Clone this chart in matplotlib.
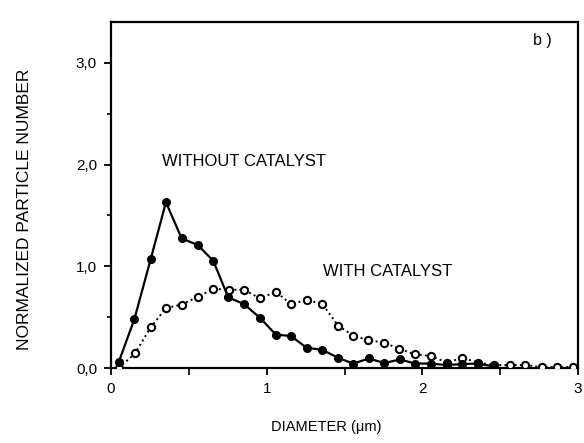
import matplotlib
matplotlib.use("Agg")

import matplotlib.pyplot as plt
from matplotlib.ticker import FixedLocator, FixedFormatter

# particle size distribution
diam_without = [0.05, 0.15, 0.255, 0.353, 0.454, 0.557, 0.657, 0.753, 0.854, 0.96,
                1.058, 1.156, 1.257, 1.357, 1.46, 1.556, 1.657, 1.755, 1.856, 1.952,
                2.055, 2.156, 2.256, 2.36, 2.46]
num_without = [0.06, 0.48, 1.07, 1.63, 1.275, 1.21, 1.055, 0.695, 0.63, 0.49,
               0.33, 0.315, 0.20, 0.18, 0.10, 0.045, 0.095, 0.05, 0.085, 0.045,
               0.045, 0.03, 0.04, 0.045, 0.015]

diam_with = [0.05, 0.154, 0.255, 0.353, 0.454, 0.557, 0.657, 0.758, 0.854, 0.957,
             1.058, 1.156, 1.257, 1.357, 1.46, 1.556, 1.653, 1.753, 1.852, 1.952,
             2.055, 2.156, 2.256, 2.36, 2.46, 2.56, 2.66, 2.766, 2.866, 2.97]
num_with = [0.0, 0.145, 0.40, 0.59, 0.625, 0.70, 0.78, 0.77, 0.77, 0.685,
            0.75, 0.63, 0.67, 0.63, 0.415, 0.32, 0.275, 0.25, 0.19, 0.135,
            0.12, 0.055, 0.10, 0.055, 0.03, 0.03, 0.03, 0.01, 0.01, 0.01]

y_ticks = [0, 1, 2, 3]
y_labels = ["0,0", "1,0", "2,0", "3,0"]
x_ticks = [0, 1, 2, 3]
x_labels = ["0", "1", "2", "3"]

plt.rcParams["font.family"] = ["Liberation Sans", "DejaVu Sans"]

fig = plt.figure(figsize=(5.84, 4.43), dpi=100)
ax = fig.add_axes([0.190, 0.169, 0.800, 0.781])

# with catalyst: dotted line, open circles
ax.plot(diam_with, num_with, color="black", linestyle=":", linewidth=1.4,
        marker="o", markersize=5.2, markerfacecolor="white",
        markeredgecolor="black", markeredgewidth=1.5, zorder=3)
# without catalyst: solid line, filled circles
ax.plot(diam_without, num_without, color="black", linestyle="-", linewidth=1.6,
        marker="o", markersize=5.5, markerfacecolor="black",
        markeredgecolor="black", zorder=4)

ax.set_xlim(0, 3)
ax.set_ylim(0, 3.4)

ax.xaxis.set_major_locator(FixedLocator(x_ticks))
ax.xaxis.set_major_formatter(FixedFormatter(x_labels))
ax.xaxis.set_minor_locator(FixedLocator([0.5, 1.5, 2.5]))
ax.yaxis.set_major_locator(FixedLocator(y_ticks))
ax.yaxis.set_major_formatter(FixedFormatter(y_labels))
ax.yaxis.set_minor_locator(FixedLocator([0.5, 1.5, 2.5]))

ax.tick_params(which="major", direction="out", length=5, width=1.3,
               labelsize=11, pad=5)
ax.tick_params(which="minor", direction="out", length=3, width=1.2)
ax.tick_params(axis="x", which="minor", length=5)

for sp in ax.spines.values():
    sp.set_linewidth(1.6)

ax.set_xlabel("DIAMETER (\u03bcm)", fontsize=10.5)
ax.xaxis.set_label_coords(0.46, -0.15)
ax.set_ylabel("NORMALIZED PARTICLE NUMBER", fontsize=12.5)
ax.yaxis.set_label_coords(-0.17, 0.46)

ax.text(0.33, 2.03, "WITHOUT CATALYST", fontsize=12, va="center", ha="left")
ax.text(1.36, 0.95, "WITH CATALYST", fontsize=12, va="center", ha="left")
ax.text(2.71, 3.22, "b )", fontsize=11.5, va="center", ha="left")

plt.savefig("out.png", dpi=100)
